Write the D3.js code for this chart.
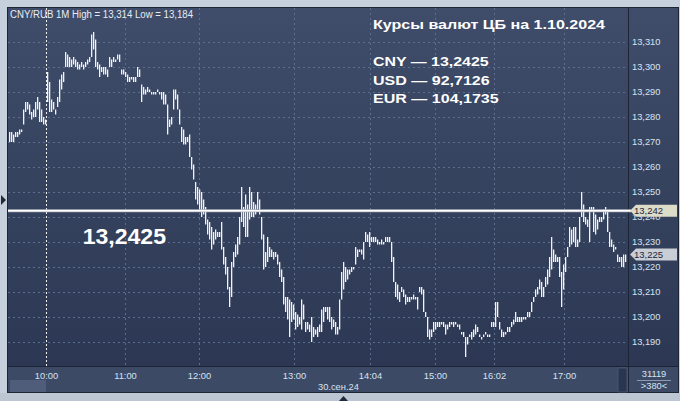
<!DOCTYPE html>
<html><head><meta charset="utf-8">
<script src="https://cdn.jsdelivr.net/npm/d3@7"></script>
<style>
html,body{margin:0;padding:0;background:#c8d2de;overflow:hidden;}
svg{display:block;font-family:"Liberation Sans",Arial,sans-serif;}
</style>
</head><body>
<svg id="chart" width="680" height="401"></svg>
<script>
// ---- data (1-minute bars, CNY/RUB, 30.09.2024) ----
const highs = [
13.274,13.274,13.273,13.274,13.274,13.275,13.275,13.283,13.286,13.286,
13.285,13.282,13.283,13.286,13.288,13.286,13.283,13.280,13.279,13.298,
13.294,13.287,13.286,13.283,13.288,13.295,13.297,13.298,13.306,13.305,
13.304,13.303,13.304,13.303,13.302,13.301,13.302,13.301,13.302,13.303,
13.304,13.313,13.314,13.311,13.302,13.301,13.300,13.300,13.300,13.299,
13.304,13.303,13.304,13.303,13.305,13.305,13.299,13.299,13.298,13.297,
13.296,13.296,13.296,13.296,13.300,13.299,13.293,13.292,13.291,13.292,
13.291,13.290,13.290,13.290,13.291,13.290,13.290,13.290,13.289,13.285,
13.279,13.280,13.291,13.291,13.289,13.283,13.276,13.275,13.272,13.272,
13.273,13.264,13.261,13.254,13.252,13.251,13.250,13.247,13.244,13.239,
13.238,13.236,13.234,13.235,13.234,13.234,13.238,13.228,13.224,13.220,
13.212,13.222,13.226,13.229,13.232,13.240,13.252,13.244,13.249,13.245,
13.252,13.250,13.246,13.245,13.250,13.247,13.240,13.233,13.226,13.232,
13.228,13.227,13.226,13.226,13.225,13.222,13.219,13.216,13.208,13.208,
13.207,13.206,13.205,13.202,13.201,13.200,13.207,13.205,13.198,13.198,
13.197,13.200,13.196,13.195,13.196,13.197,13.203,13.204,13.204,13.204,
13.204,13.200,13.199,13.198,13.196,13.207,13.218,13.222,13.220,13.219,
13.219,13.220,13.220,13.228,13.227,13.227,13.227,13.230,13.234,13.233,
13.234,13.232,13.232,13.232,13.231,13.230,13.231,13.230,13.232,13.232,
13.232,13.230,13.224,13.214,13.213,13.210,13.212,13.211,13.209,13.208,
13.208,13.208,13.209,13.208,13.208,13.212,13.212,13.211,13.202,13.200,
13.195,13.195,13.198,13.198,13.198,13.198,13.198,13.198,13.197,13.197,
13.198,13.198,13.198,13.198,13.197,13.197,13.194,13.194,13.192,13.192,
13.193,13.194,13.195,13.197,13.196,13.193,13.192,13.193,13.194,13.193,
13.193,13.198,13.198,13.206,13.206,13.198,13.195,13.194,13.194,13.196,
13.196,13.198,13.199,13.202,13.200,13.200,13.200,13.200,13.200,13.202,
13.202,13.206,13.208,13.211,13.212,13.215,13.214,13.212,13.216,13.219,
13.224,13.232,13.227,13.225,13.224,13.224,13.218,13.221,13.224,13.228,
13.236,13.235,13.236,13.236,13.231,13.240,13.250,13.245,13.240,13.239,
13.244,13.244,13.244,13.241,13.239,13.240,13.240,13.243,13.244,13.242,
13.234,13.231,13.229,13.228,13.225,13.224,13.224,13.225,13.225
];
const lows = [
13.270,13.270,13.270,13.272,13.272,13.273,13.274,13.277,13.282,13.283,
13.281,13.279,13.280,13.280,13.283,13.278,13.278,13.277,13.277,13.286,
13.282,13.282,13.283,13.281,13.284,13.286,13.291,13.294,13.300,13.300,
13.300,13.300,13.301,13.300,13.299,13.299,13.300,13.299,13.300,13.301,
13.302,13.304,13.307,13.300,13.299,13.296,13.298,13.297,13.297,13.296,
13.300,13.300,13.302,13.302,13.303,13.302,13.297,13.297,13.296,13.294,
13.294,13.295,13.294,13.294,13.296,13.296,13.286,13.289,13.289,13.290,
13.290,13.289,13.289,13.289,13.290,13.289,13.287,13.285,13.285,13.273,
13.276,13.277,13.283,13.287,13.283,13.277,13.270,13.269,13.269,13.270,
13.264,13.259,13.255,13.247,13.245,13.242,13.240,13.241,13.237,13.233,
13.231,13.227,13.229,13.231,13.232,13.232,13.227,13.221,13.217,13.211,
13.204,13.208,13.220,13.224,13.225,13.229,13.238,13.236,13.232,13.232,
13.239,13.240,13.240,13.241,13.243,13.241,13.231,13.219,13.220,13.222,
13.224,13.224,13.223,13.224,13.221,13.216,13.214,13.205,13.202,13.199,
13.192,13.198,13.199,13.195,13.196,13.197,13.195,13.199,13.194,13.195,
13.194,13.190,13.192,13.193,13.192,13.194,13.194,13.198,13.202,13.199,
13.198,13.195,13.196,13.193,13.193,13.195,13.207,13.211,13.214,13.215,
13.217,13.218,13.219,13.221,13.224,13.226,13.225,13.223,13.230,13.230,
13.228,13.230,13.230,13.230,13.229,13.229,13.229,13.229,13.230,13.230,
13.230,13.222,13.214,13.208,13.207,13.206,13.210,13.208,13.205,13.206,
13.206,13.207,13.207,13.207,13.203,13.210,13.209,13.202,13.200,13.192,
13.191,13.192,13.194,13.195,13.196,13.196,13.197,13.196,13.193,13.195,
13.196,13.197,13.196,13.197,13.196,13.195,13.193,13.192,13.184,13.189,
13.192,13.191,13.192,13.193,13.194,13.192,13.191,13.192,13.193,13.192,
13.192,13.196,13.196,13.196,13.200,13.195,13.192,13.192,13.193,13.194,
13.194,13.196,13.197,13.198,13.198,13.198,13.198,13.199,13.199,13.200,
13.200,13.202,13.206,13.208,13.209,13.211,13.208,13.208,13.212,13.213,
13.216,13.219,13.222,13.222,13.222,13.216,13.204,13.211,13.218,13.224,
13.228,13.229,13.230,13.228,13.228,13.230,13.240,13.238,13.237,13.236,
13.230,13.242,13.234,13.233,13.235,13.238,13.238,13.239,13.241,13.234,
13.228,13.228,13.226,13.227,13.222,13.222,13.220,13.220,13.222
];
const priceTicks = [13.19,13.20,13.21,13.22,13.23,13.24,13.25,13.26,13.27,13.28,13.29,13.30,13.31];
const timeLabels = ["10:00","11:00","12:00","13:00","14:04","15:00","16:02","17:00"];
const timeBarIndex = [18.75,58.25,95.25,142.75,180.75,213.25,242.75,277.75];
const sessionStartIndex = 18.75;
const dateLabel = "30.сен.24";
const cbRate = 13.2425;
const cbRateTag = "13,242";
const lastPrice = 13.225;
const lastPriceTag = "13,225";
const headerText = "CNY/RUB 1M High = 13,314 Low = 13,184";
const titleText = "Курсы валют ЦБ на 1.10.2024";
const rateLines = ["CNY — 13,2425","USD — 92,7126","EUR — 104,1735"];
const bigLabel = "13,2425";
const counterTop = "31119";
const counterBottom = ">380<";

// ---- layout ----
const svg = d3.select("#chart");
const P = {l:8, t:8, r:628, b:366};   // plot area
const A = {l:629, r:678};             // right axis panel
const B = {t:367, b:392};             // bottom axis panel

const fmt = v => d3.format(".3f")(v).replace(".", ",");

const x = d3.scaleLinear().domain([0, highs.length - 1]).range([9, 625]);
const y = d3.scaleLinear().domain([13.19, 13.31]).range([342, 42]);

const defs = svg.append("defs");
const g1 = defs.append("linearGradient").attr("id","bg").attr("x1",0).attr("y1",0).attr("x2",0).attr("y2",1);
g1.append("stop").attr("offset","0%").attr("stop-color","#3f4d6a");
g1.append("stop").attr("offset","100%").attr("stop-color","#2c3853");
defs.append("clipPath").attr("id","plotclip").append("rect")
  .attr("x",P.l).attr("y",P.t).attr("width",P.r-P.l).attr("height",P.b-P.t);

// outer frame
svg.append("rect").attr("width",680).attr("height",401).attr("fill","#c6d0dc");
svg.append("rect").attr("x",0).attr("y",393).attr("width",680).attr("height",8).attr("fill","#bcc6d3");

// panels
svg.append("rect").attr("x",P.l-1).attr("y",P.t-1).attr("width",A.r-P.l+2).attr("height",B.b-P.t+2).attr("fill","#1c2436");
svg.append("rect").attr("x",P.l).attr("y",P.t).attr("width",P.r-P.l).attr("height",P.b-P.t).attr("fill","url(#bg)");
svg.append("rect").attr("x",A.l).attr("y",P.t).attr("width",A.r-A.l).attr("height",P.b-P.t).attr("fill","url(#bg)");
svg.append("rect").attr("x",P.l).attr("y",B.t).attr("width",P.r-P.l).attr("height",B.b-B.t).attr("fill","#3c4a66");
svg.append("rect").attr("x",A.l).attr("y",B.t).attr("width",A.r-A.l).attr("height",B.b-B.t).attr("fill","#3c4a66");
// scroll pieces in bottom panel
svg.append("rect").attr("x",P.l+2).attr("y",380).attr("width",36).attr("height",12).attr("fill","#4f5d7a");
svg.append("rect").attr("x",618).attr("y",B.t+1).attr("width",9).attr("height",B.b-B.t-1).attr("fill","#2a3650").attr("stroke","#56647f").attr("stroke-width",0.6);

// grid
const grid = svg.append("g").attr("clip-path","url(#plotclip)");
grid.selectAll("line.h").data(priceTicks).join("line")
  .attr("x1",P.l).attr("x2",P.r)
  .attr("y1",d=>Math.round(y(d))+0.5).attr("y2",d=>Math.round(y(d))+0.5)
  .attr("stroke","#5d6d8e").attr("stroke-width",1).attr("stroke-dasharray","2,3");
grid.selectAll("line.v").data(timeBarIndex.filter(d=>d!==sessionStartIndex)).join("line")
  .attr("x1",d=>Math.floor(x(d))+0.5).attr("x2",d=>Math.floor(x(d))+0.5)
  .attr("y1",P.t).attr("y2",P.b)
  .attr("stroke","#5d6d8e").attr("stroke-width",1).attr("stroke-dasharray","2,3");
grid.append("line")
  .attr("x1",Math.floor(x(sessionStartIndex))+0.5).attr("x2",Math.floor(x(sessionStartIndex))+0.5)
  .attr("y1",P.t).attr("y2",P.b)
  .attr("stroke","#f2f2f2").attr("stroke-width",1).attr("stroke-dasharray","2,2");

// bars
const barsG = svg.append("g").attr("clip-path","url(#plotclip)");
barsG.selectAll("rect").data(highs.map((h,i)=>({i,h,l:lows[i]}))).join("rect")
  .attr("x",d=>x(d.i)).attr("width",1.3)
  .attr("y",d=>y(d.h))
  .attr("height",d=>Math.max(y(d.l)-y(d.h),1.6))
  .attr("fill","#f6f1ee");

// CB rate line
const cy = y(cbRate);
svg.append("line").attr("x1",P.l).attr("x2",A.l+2).attr("y1",cy).attr("y2",cy)
  .attr("stroke","#aeb4c0").attr("stroke-width",3.2);
svg.append("line").attr("x1",P.l).attr("x2",A.l+2).attr("y1",cy).attr("y2",cy)
  .attr("stroke","#ffffff").attr("stroke-width",1.3);

// right axis
svg.append("g").selectAll("text").data(priceTicks).join("text")
  .attr("x",632).attr("y",d=>y(d)).attr("dy","0.35em")
  .attr("font-size",9.3).attr("fill","#d6e2f2").text(d=>fmt(d));

// price tags
function tag(val, label, fill){
  const ty = y(val);
  svg.append("path")
    .attr("d",`M${A.l+1},${ty} L${A.l+7},${ty-6} L${A.r-1},${ty-6} L${A.r-1},${ty+6} L${A.l+7},${ty+6} Z`)
    .attr("fill",fill);
  svg.append("text").attr("x",A.l+5).attr("y",ty).attr("dy","0.36em")
    .attr("font-size",9.5).attr("fill","#1e2638").text(label);
}
tag(cbRate, cbRateTag, "#dcdcc8");
tag(lastPrice, lastPriceTag, "#c9cdd6");

// bottom axis
svg.append("g").selectAll("text").data(timeLabels).join("text")
  .attr("x",(d,i)=>x(timeBarIndex[i])).attr("y",379)
  .attr("text-anchor","middle").attr("font-size",9.3).attr("fill","#d6e2f2").text(d=>d);
svg.append("text").attr("x",318).attr("y",389.5).attr("font-size",9.3).attr("fill","#d6e2f2").text(dateLabel);

// bottom-right counter
svg.append("text").attr("x",(A.l+A.r)/2+0.5).attr("y",377).attr("text-anchor","middle")
  .attr("font-size",9.3).attr("fill","#d6e2f2").text(counterTop);
svg.append("line").attr("x1",637).attr("x2",671).attr("y1",380.5).attr("y2",380.5).attr("stroke","#8e9ab0");
svg.append("text").attr("x",(A.l+A.r)/2+0.5).attr("y",388.5).attr("text-anchor","middle")
  .attr("font-size",9.3).attr("fill","#d6e2f2").text(counterBottom);

// header & annotations
svg.append("text").attr("x",10).attr("y",18).attr("font-size",10).attr("fill","#e6edf6")
  .attr("textLength",183).attr("lengthAdjust","spacingAndGlyphs").text(headerText);
svg.append("text").attr("x",373).attr("y",29.3).attr("font-size",13.3).attr("font-weight","bold")
  .attr("fill","#ffffff").attr("textLength",232).attr("lengthAdjust","spacingAndGlyphs").text(titleText);
const lineY = [65.7, 85, 102.7];
const lineW = [115.7, 116.7, 125.7];
svg.append("g").selectAll("text").data(rateLines).join("text")
  .attr("x",373).attr("y",(d,i)=>lineY[i]).attr("font-size",13.3).attr("font-weight","bold")
  .attr("fill","#ffffff").attr("textLength",(d,i)=>lineW[i]).attr("lengthAdjust","spacingAndGlyphs").text(d=>d);
svg.append("text").attr("x",82.7).attr("y",244.3).attr("font-size",22).attr("font-weight","bold")
  .attr("fill","#ffffff").attr("textLength",83.3).attr("lengthAdjust","spacingAndGlyphs").text(bigLabel);

// little triangle markers on the frame
svg.append("path").attr("d","M1,195 L6,200 L1,205 Z").attr("fill","#1f2a3c");
svg.append("path").attr("d","M339,401 L343.5,396 L348,401 Z").attr("fill","#1f2a3c");
</script>
</body></html>
